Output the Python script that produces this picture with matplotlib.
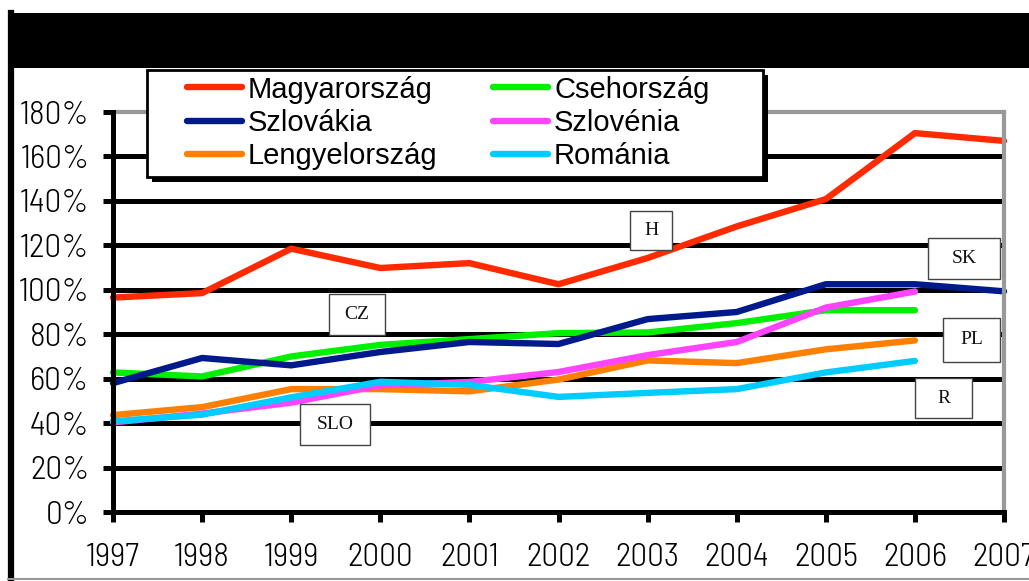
import matplotlib
matplotlib.use("Agg")
import os
import matplotlib.pyplot as plt
from matplotlib.patches import Rectangle
from matplotlib.lines import Line2D
from matplotlib.ticker import FuncFormatter
from matplotlib import font_manager as fm

years = [1997, 1998, 1999, 2000, 2001, 2002, 2003, 2004, 2005, 2006, 2007]
magyarorszag = [96.5, 98.5, 118.5, 109.8, 112, 102.5, 114.3, 128.5, 140.8, 170.5, 167]
szlovakia = [58, 69.3, 66, 72, 76.5, 75.6, 86.8, 90, 102.5, 102.5, 99.3]
lengyelorszag = [43.6, 47.2, 55.3, 55.3, 54.3, 59.6, 68.2, 67, 73.2, 77.2]
csehorszag = [62.8, 61, 70, 75.2, 77.8, 80.5, 80.8, 85, 90.8, 90.8]
szlovenia = [40.3, 44.3, 49.2, 57, 58.5, 63, 70.6, 76.5, 92, 99.2]
romania = [40.8, 43.8, 51.6, 58.6, 57.2, 51.8, 53.6, 55.3, 62.8, 68]
yticks = [0, 20, 40, 60, 80, 100, 120, 140, 160, 180]

series = [
    ("Magyarország", magyarorszag, "#FF2A00", 5),
    ("Szlovákia", szlovakia, "#001A8C", 4),
    ("Lengyelország", lengyelorszag, "#FF7F00", 2),
    ("Csehország", csehorszag, "#00F000", 1),
    ("Szlovénia", szlovenia, "#FF44FF", 3),
    ("Románia", romania, "#00CCFF", 6),
]

# text boxes: label, center x (year), center y (%), width px, height px
boxes = [
    ("H", 2003.04, 126.9, 42, 39),
    ("CZ", 1999.74, 88.7, 56, 41),
    ("SLO", 1999.49, 39.2, 70, 41),
    ("SK", 2006.55, 114.3, 72, 41),
    ("PL", 2006.64, 77.4, 57, 44),
    ("R", 2006.32, 51.3, 57, 40),
]

W, H = 1029, 581
fig = plt.figure(figsize=(W / 100, H / 100), dpi=100)
fig.patch.set_facecolor("white")

def fx(px):
    return px / W

def fy(py):
    return 1 - py / H

# choose a narrow font for the tick labels
files = {os.path.basename(f.fname): f.fname for f in fm.fontManager.ttflist}
tick_prop = None
for cand in ["BarlowSemiCondensed-Light.ttf", "BarlowSemiCondensed-Regular.ttf",
             "BarlowCondensed-Regular.ttf", "DejaVuSansCondensed.ttf"]:
    if cand in files:
        tick_prop = fm.FontProperties(fname=files[cand], size=24)
        break
if tick_prop is None:
    tick_prop = fm.FontProperties(family="Liberation Sans", size=20)

# header bar and outer frame
fig.patches.append(Rectangle((fx(8), fy(68)), 1.0, (68 - 13) / H, transform=fig.transFigure,
                             facecolor="black", edgecolor="none", zorder=0))
fig.lines.append(Line2D([fx(11), fx(11)], [fy(13), fy(579)], transform=fig.transFigure,
                        color="black", lw=4.5))
fig.lines.append(Line2D([fx(8), 1.0], [fy(579), fy(579)], transform=fig.transFigure,
                        color="#999999", lw=1.5))

ax = fig.add_axes([fx(113), fy(512), fx(1004) - fx(113), (512 - 112) / H])
ax.set_xlim(1997, 2007)
ax.set_ylim(0, 180)
ax.set_facecolor("white")

for v in yticks[1:-1]:
    ax.axhline(v, color="black", lw=3.6, zorder=1)

handles = {}
for name, vals, col, z in series:
    (ln,) = ax.plot(years[:len(vals)], vals, color=col, lw=4.6, solid_capstyle="round",
                    solid_joinstyle="round", zorder=2 + z * 0.1, label=name, clip_on=False)
    handles[name] = ln

for spine in ["left", "bottom"]:
    ax.spines[spine].set_color("black")
    ax.spines[spine].set_linewidth(3.6)
for spine in ["top", "right"]:
    ax.spines[spine].set_color("#999999")
    ax.spines[spine].set_linewidth(3.0)
ax.spines["left"].set_zorder(3)

ax.set_yticks(yticks)
ax.set_xticks(years)
ax.yaxis.set_major_formatter(FuncFormatter(lambda v, p: f"{int(v)}%"))
ax.tick_params(axis="both", direction="out", length=7, width=3.6, color="black")
ax.tick_params(axis="y", pad=10)
ax.tick_params(axis="x", pad=15)
for lab in ax.get_yticklabels() + ax.get_xticklabels():
    lab.set_fontproperties(tick_prop)

# label boxes
px_x = (1004 - 113) / 10.0
px_y = (512 - 112) / 180.0
for lab, cx, cy, wpx, hpx in boxes:
    w = wpx / px_x
    h = hpx / px_y
    ax.add_patch(Rectangle((cx - w / 2, cy - h / 2), w, h, facecolor="white",
                           edgecolor="#444444", lw=1.0, zorder=8, clip_on=False))
    ax.text(cx, cy, lab, ha="center", va="center", fontsize=14,
            family="Liberation Serif", color="#111111", zorder=9)

# legend with frame and shadow
lx0, ly0, lx1, ly1 = 147, 70, 763, 177
fig.patches.append(Rectangle((fx(lx0 + 5), fy(ly1 + 5)), (lx1 - lx0) / W, (ly1 - ly0) / H,
                             transform=fig.transFigure, facecolor="black", edgecolor="none",
                             zorder=10))
fig.patches.append(Rectangle((fx(lx0), fy(ly1)), (lx1 - lx0) / W, (ly1 - ly0) / H,
                             transform=fig.transFigure, facecolor="white", edgecolor="black",
                             lw=2.0, zorder=11))
order = ["Magyarország", "Szlovákia", "Lengyelország", "Csehország", "Szlovénia", "Románia"]
leg = fig.legend([handles[n] for n in order], order, ncol=2, loc="upper left",
                 bbox_to_anchor=(fx(172), fy(61)), frameon=False,
                 prop=dict(family="Liberation Sans", size=21), handlelength=1.9,
                 handletextpad=0.2, columnspacing=1.9, labelspacing=0.18, borderpad=0.0)
leg.set_zorder(12)

fig.savefig("out.png", dpi=100, facecolor="white")
